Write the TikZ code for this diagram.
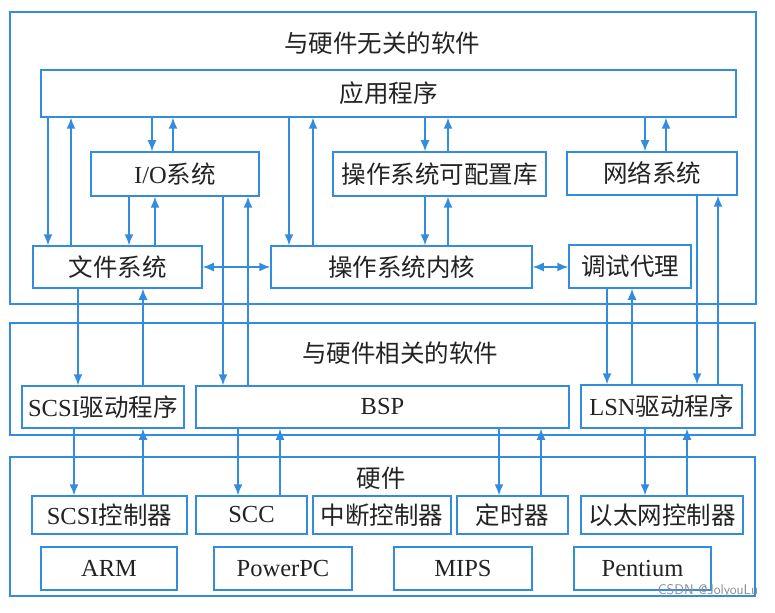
\documentclass[tikz,border=0pt]{standalone}
\usepackage{fontspec}
\setmainfont{Liberation Serif}
\newfontfamily\cjk{Noto Sans CJK SC}
\usetikzlibrary{arrows.meta}
\definecolor{lineblue}{RGB}{52,140,222}
\definecolor{txt}{RGB}{35,35,35}
\tikzset{
  box/.style={draw=lineblue, line width=1.5pt, inner sep=0pt, text=txt,
    font=\fontsize{24.5}{28}\selectfont},
  title/.style={inner sep=0pt, text=txt, font=\fontsize{24.5}{28}\selectfont},
  arr/.style={draw=lineblue, line width=1.5pt, -{Latex[length=11pt,width=9pt]}},
  darr/.style={draw=lineblue, line width=1.5pt, {Latex[length=11pt,width=9pt]}-{Latex[length=11pt,width=9pt]}},
}
\newcommand{\bx}[6]{% name, x1, y1, x2, y2, text
  \node[box, minimum width={#4-#2}, minimum height={#5-#3}] (#1) at ({(#2+#4)/2},{(#3+#5)/2}) {#6};}
\begin{document}
\begin{tikzpicture}[x=1pt,y=-1pt]
\useasboundingbox (0,0) rectangle (775,612);
\fill[white] (0,0) rectangle (775,612);
% outer groups
\bx{g1}{10}{12}{756}{304}{}
\bx{g2}{10}{323}{755}{435}{}
\bx{g3}{10}{457}{755}{596}{}
\node[title] (t1) at (382,43) {\cjk 与硬件无关的软件};
\node[title] (t2) at (400,353) {\cjk 与硬件相关的软件};
\node[title] (t3) at (381,478) {\cjk 硬件};
% software boxes
\bx{app}{41}{70}{736}{117}{\cjk 应用程序}
\bx{io}{91}{152}{259}{196}{I/O{\cjk 系统}}
\bx{lib}{333}{152}{546}{196}{\cjk 操作系统可配置库}
\bx{net}{567}{152}{737}{195}{\cjk 网络系统}
\bx{fs}{33}{246}{202}{288}{\cjk 文件系统}
\bx{ker}{271}{246}{532}{288}{\cjk 操作系统内核}
\bx{dbg}{569}{245}{691}{288}{\cjk 调试代理}
% hardware related software
\bx{scsid}{22}{386}{184}{428}{SCSI{\cjk 驱动程序}}
\bx{bsp}{196}{386}{569}{428}{BSP}
\bx{lsn}{581}{385}{742}{428}{LSN{\cjk 驱动程序}}
% hardware
\bx{scsic}{32}{496}{187}{534}{SCSI{\cjk 控制器}}
\bx{scc}{196}{496}{307}{534}{SCC}
\bx{intc}{313}{496}{451}{534}{\cjk 中断控制器}
\bx{tim}{457}{496}{568}{534}{\cjk 定时器}
\bx{eth}{581}{496}{743}{534}{\cjk 以太网控制器}
\bx{arm}{41}{547}{177}{590}{ARM}
\bx{ppc}{214}{547}{352}{590}{PowerPC}
\bx{mips}{394}{547}{532}{590}{MIPS}
\bx{pent}{574}{547}{711}{590}{Pentium}
% arrows: app <-> fs
\draw[arr] (app.south -| 48,0) -- (fs.north -| 48,0);
\draw[arr] (fs.north -| 71,0) -- (app.south -| 71,0);
% app <-> io
\draw[arr] (app.south -| 152,0) -- (io.north -| 152,0);
\draw[arr] (io.north -| 173,0) -- (app.south -| 173,0);
% io <-> fs
\draw[arr] (io.south -| 129,0) -- (fs.north -| 129,0);
\draw[arr] (fs.north -| 155,0) -- (io.south -| 155,0);
% io <-> bsp
\draw[arr] (io.south -| 223,0) -- (bsp.north -| 223,0);
\draw[arr] (bsp.north -| 248,0) -- (io.south -| 248,0);
% app <-> kernel
\draw[arr] (app.south -| 289,0) -- (ker.north -| 289,0);
\draw[arr] (ker.north -| 313,0) -- (app.south -| 313,0);
% fs <-> kernel
\draw[darr] (fs.east |- 0,267) -- (ker.west |- 0,267);
% app <-> lib
\draw[arr] (app.south -| 425,0) -- (lib.north -| 425,0);
\draw[arr] (lib.north -| 448,0) -- (app.south -| 448,0);
% lib <-> kernel
\draw[arr] (lib.south -| 425,0) -- (ker.north -| 425,0);
\draw[arr] (ker.north -| 448,0) -- (lib.south -| 448,0);
% app <-> net
\draw[arr] (app.south -| 645,0) -- (net.north -| 645,0);
\draw[arr] (net.north -| 666,0) -- (app.south -| 666,0);
% kernel <-> dbg
\draw[darr] (ker.east |- 0,267) -- (dbg.west |- 0,267);
% net <-> lsn
\draw[arr] (net.south -| 697,0) -- (lsn.north -| 697,0);
\draw[arr] (lsn.north -| 718,0) -- (net.south -| 718,0);
% dbg <-> lsn
\draw[arr] (dbg.south -| 607,0) -- (lsn.north -| 607,0);
\draw[arr] (lsn.north -| 632,0) -- (dbg.south -| 632,0);
% fs <-> scsi driver
\draw[arr] (fs.south -| 78,0) -- (scsid.north -| 78,0);
\draw[arr] (scsid.north -| 143,0) -- (fs.south -| 143,0);
% scsi driver <-> scsi controller
\draw[arr] (scsid.south -| 74,0) -- (scsic.north -| 74,0);
\draw[arr] (scsic.north -| 143,0) -- (scsid.south -| 143,0);
% bsp <-> scc
\draw[arr] (bsp.south -| 238,0) -- (scc.north -| 238,0);
\draw[arr] (scc.north -| 280,0) -- (bsp.south -| 280,0);
% bsp <-> timer
\draw[arr] (bsp.south -| 499,0) -- (tim.north -| 499,0);
\draw[arr] (tim.north -| 541,0) -- (bsp.south -| 541,0);
% lsn <-> ethernet
\draw[arr] (lsn.south -| 645,0) -- (eth.north -| 645,0);
\draw[arr] (eth.north -| 687,0) -- (lsn.south -| 687,0);
% watermark
\node[inner sep=0pt, text=black!45, font=\sffamily\fontsize{14}{15}\selectfont] (wm) at (708,591) {CSDN @JolyouLu};
\end{tikzpicture}
\end{document}
